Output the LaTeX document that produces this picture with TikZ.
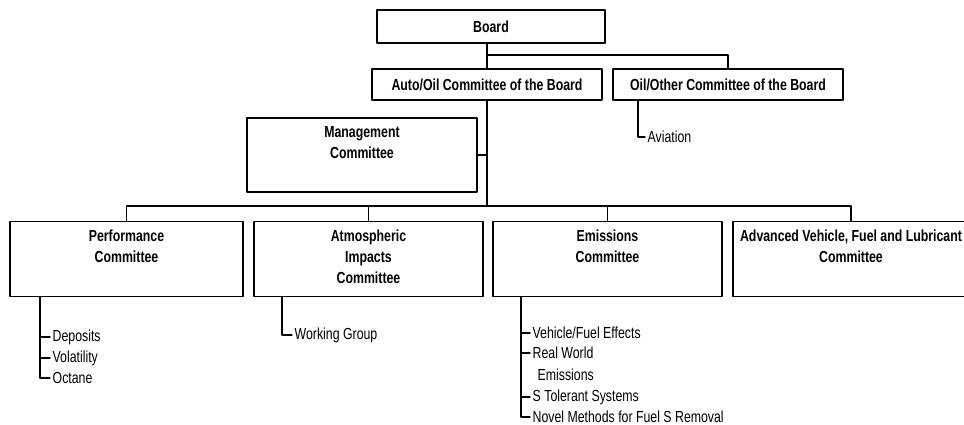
\documentclass[tikz,border=0pt]{standalone}
\usepackage{fontspec}
\setmainfont{Liberation Sans}[FakeStretch=0.77]
\usepackage{tikz}
\tikzset{
  every picture/.style={line join=round, line cap=round, line width=1.4pt},
  box/.style={draw, inner sep=0pt, font=\fontsize{16}{21}\selectfont\bfseries},
  boxtext/.style={anchor=north, align=center, inner sep=0pt, yshift=-8pt,
    font=\fontsize{16}{21}\selectfont\bfseries},
  item/.style={anchor=west, inner sep=2pt, font=\fontsize{16}{21}\selectfont},
}

\begin{document}
\begin{tikzpicture}[x=1pt,y=-1pt]
\path[fill=white,use as bounding box](0,0) rectangle (964,425);
% top of the chart
\node[box, minimum width=228pt, minimum height=33pt] (board) at (491,26.5) {Board};
\node[box, minimum width=230pt, minimum height=31pt] (autooil) at (487,84.5) {Auto/Oil Committee of the Board};
\node[box, minimum width=230pt, minimum height=31pt] (oilother) at (728,84.5) {Oil/Other Committee of the Board};
\node[box, minimum width=230pt, minimum height=74pt] (mgmt) at (362,155) {};
\node[boxtext] (mgmt-t) at (mgmt.north) {Management\\Committee};
% committees
\node[box, minimum width=233pt, minimum height=75pt] (perf) at (126.5,259) {};
\node[box, minimum width=229pt, minimum height=75pt] (atmo) at (368.5,259) {};
\node[box, minimum width=229pt, minimum height=75pt] (emis) at (607.5,259) {};
\node[box, minimum width=236pt, minimum height=75pt] (adv) at (851,259) {};
\node[boxtext] (perf-t) at (perf.north) {Performance\\Committee};
\node[boxtext] (atmo-t) at (atmo.north) {Atmospheric\\Impacts\\Committee};
\node[boxtext] (emis-t) at (emis.north) {Emissions\\Committee};
\node[boxtext] (adv-t) at (adv.north) {Advanced Vehicle, Fuel and Lubricant\\Committee};

\coordinate (split) at (autooil.north |- 0,55);
\coordinate (bus) at (autooil.south |- 0,206);
\draw (board.south -| split) -- (split) -| (oilother.north);
\draw (split) -- (autooil.north);
\draw (autooil.south) -- (bus);
\draw (mgmt.east) -- (mgmt.east -| bus);
\draw (perf.north) |- (adv.north |- bus) -- (adv.north);
\foreach \c in {atmo,emis} \draw (\c.north) -- (\c.north |- bus);

% working groups
\node[item] (aviation) at (645,137) {Aviation};
\draw (oilother.south -| 638,0) |- (aviation.west);

\node[item] (deposits) at (50,337) {Deposits};
\node[item] (volatility) at (50,358) {Volatility};
\node[item] (octane) at (50,378) {Octane};
\coordinate (perf-root) at (perf.south -| 40,0);
\draw (perf-root) |- (octane.west);
\foreach \i in {deposits,volatility} \draw (perf-root |- \i.west) -- (\i.west);

\node[item] (wgroup) at (292,335) {Working Group};
\draw (atmo.south -| 282,0) |- (wgroup.west);

\node[item] (vfeffects) at (530,333) {Vehicle/Fuel Effects};
\node[item] (realworld) at (530,353) {Real World};
\node[item] (realworld-2) at (535,375) {Emissions};
\node[item] (stolerant) at (530,397) {S Tolerant Systems};
\node[item] (novel) at (530,417) {Novel Methods for Fuel S Removal};
\coordinate (emis-root) at (emis.south -| 521,0);
\draw (emis-root) |- (novel.west);
\foreach \i in {vfeffects,realworld,stolerant} \draw (emis-root |- \i.west) -- (\i.west);
\end{tikzpicture}
\end{document}
